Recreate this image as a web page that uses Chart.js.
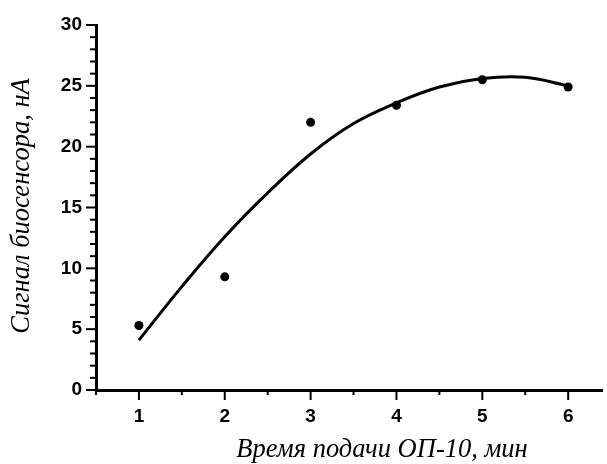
<!DOCTYPE html>
<html>
<head>
<meta charset="utf-8">
<script src="https://cdn.jsdelivr.net/npm/chart.js@4/dist/chart.umd.min.js"></script>
<style>
html,body{margin:0;padding:0;background:#fff;}
#wrap{width:607px;height:464px;position:relative;}
</style>
</head>
<body>
<div id="wrap"><canvas id="c" width="607" height="464"></canvas></div>
<script>
// Measured points
const timeMin = [1, 2, 3, 4, 5, 6];
const signalNA = [5.3, 9.3, 22.0, 23.4, 25.5, 24.9];
// Fitted curve
const curveX = [1, 1.5, 2, 2.5, 3, 3.5, 4, 4.5, 5, 5.5, 6];
const curveY = [4.1, 8.5, 12.6, 16.2, 19.4, 21.9, 23.6, 24.9, 25.6, 25.7, 25.0];
// Tick values
const xTicks = [0.5, 1, 1.5, 2, 2.5, 3, 3.5, 4, 4.5, 5, 5.5, 6];
const xLabels = [1, 2, 3, 4, 5, 6];
const yTicks = Array.from({length: 31}, (_, i) => i);
const yLabels = [0, 5, 10, 15, 20, 25, 30];
const xTitle = 'Время подачи ОП-10, мин';
const yTitle = 'Сигнал биосенсора, нА';

const tickFont = {family: "'Liberation Sans', Arial, sans-serif", size: 19, weight: 'bold'};
const titleFont = "italic 26.5px 'Liberation Serif', 'Times New Roman', serif";

const tickPlugin = {
  id: 'ticksAndTitles',
  afterDraw(chart) {
    const ctx = chart.ctx;
    const xs = chart.scales.x, ys = chart.scales.y;
    const ca = chart.chartArea;
    ctx.save();
    ctx.strokeStyle = '#000';
    ctx.lineWidth = 2;
    xs.ticks.forEach(t => {
      const px = xs.getPixelForValue(t.value);
      const major = xLabels.includes(t.value);
      ctx.beginPath();
      ctx.moveTo(px, ca.bottom);
      ctx.lineTo(px, ca.bottom + (major ? 10 : 5));
      ctx.stroke();
    });
    ys.ticks.forEach(t => {
      const py = ys.getPixelForValue(t.value);
      const major = yLabels.includes(t.value);
      ctx.beginPath();
      ctx.moveTo(ca.left, py);
      ctx.lineTo(ca.left - (major ? 10 : 6), py);
      ctx.stroke();
    });
    ctx.fillStyle = '#000';
    ctx.font = titleFont;
    ctx.textAlign = 'center';
    ctx.textBaseline = 'middle';
    ctx.fillText(xTitle, 382, 450);
    ctx.translate(22, 206);
    ctx.rotate(-Math.PI / 2);
    ctx.fillText(yTitle, 0, 0);
    ctx.restore();
  }
};

new Chart(document.getElementById('c'), {
  type: 'scatter',
  data: {
    datasets: [
      {
        label: 'fit',
        data: curveX.map((x, i) => ({x, y: curveY[i]})),
        showLine: true,
        borderColor: '#000',
        borderWidth: 3,
        pointRadius: 0,
        tension: 0.4
      },
      {
        label: 'data',
        data: timeMin.map((x, i) => ({x, y: signalNA[i]})),
        showLine: false,
        backgroundColor: '#000',
        borderColor: '#000',
        pointRadius: 4.5,
        pointBorderWidth: 0
      }
    ]
  },
  options: {
    responsive: false,
    animation: false,
    devicePixelRatio: 1,
    layout: {padding: {top: 25, right: 0, left: 0, bottom: 0}},
    plugins: {legend: {display: false}, tooltip: {enabled: false}},
    scales: {
      x: {
        type: 'linear',
        min: 0.5,
        max: 6.4,
        afterFit(s) { s.height = 74; },
        afterBuildTicks(s) { s.ticks = xTicks.map(v => ({value: v})); },
        ticks: {
          autoSkip: false,
          maxRotation: 0,
          color: '#000',
          font: tickFont,
          padding: 5,
          callback: v => xLabels.includes(v) ? String(v) : ''
        },
        grid: {display: true, drawOnChartArea: false, drawTicks: true, tickLength: 10, color: 'rgba(0,0,0,0)'},
        border: {display: true, color: '#000', width: 3}
      },
      y: {
        type: 'linear',
        min: 0,
        max: 30,
        afterFit(s) { s.width = 96; },
        afterBuildTicks(s) { s.ticks = yTicks.map(v => ({value: v})); },
        ticks: {
          autoSkip: false,
          color: '#000',
          font: tickFont,
          padding: 4,
          callback: v => yLabels.includes(v) ? String(v) : ''
        },
        grid: {display: true, drawOnChartArea: false, drawTicks: true, tickLength: 10, color: 'rgba(0,0,0,0)'},
        border: {display: true, color: '#000', width: 3}
      }
    }
  },
  plugins: [tickPlugin]
});
</script>
</body>
</html>
